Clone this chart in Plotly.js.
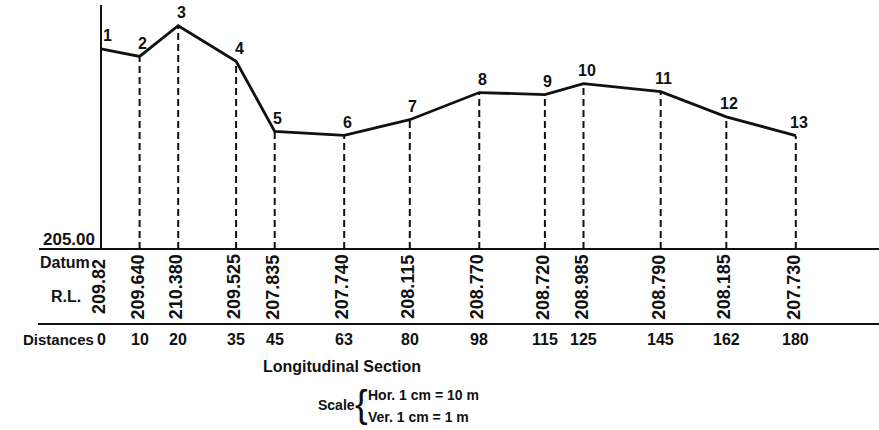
<!DOCTYPE html>
<html>
<head>
<meta charset="utf-8">
<script src="https://cdn.plot.ly/plotly-3.0.1.min.js"></script>
<style>html,body{margin:0;padding:0;background:#fff;}#chart{width:879px;height:430px;}</style>
</head>
<body>
<div id="chart"></div>
<script>
// ---- data ----
const pointLabels = ['1','2','3','4','5','6','7','8','9','10','11','12','13'];
const distances = [0, 10, 20, 35, 45, 63, 80, 98, 115, 125, 145, 162, 180];
const reducedLevels = [209.82, 209.640, 210.380, 209.525, 207.835, 207.740, 208.115, 208.770, 208.720, 208.985, 208.790, 208.185, 207.730];
const rlLabels = ['209.82', '209.640', '210.380', '209.525', '207.835', '207.740', '208.115', '208.770', '208.720', '208.985', '208.790', '208.185', '207.730'];
const distanceLabels = ['0', '10', '20', '35', '45', '63', '80', '98', '115', '125', '145', '162', '180'];
const datumLevel = 205.00;
const datumLabel = '205.00';
const titleText = 'Longitudinal Section';
const scaleLines = ['Hor. 1 cm = 10 m', 'Ver. 1 cm = 1 m'];

// ---- layout helpers ----
const W = 879, H = 430;
const X0 = 101, SX = 3.86;      // pixel of distance 0, px per metre
const Y0 = 249, SY = 41.5;      // pixel of datum, px per metre
const px = v => v / W;           // paper x from pixel
const py = v => 1 - v / H;       // paper y from pixel
const FONT = 'Liberation Sans, Arial, sans-serif';
const INK = '#111';

const shapes = [];
// vertical axis line
shapes.push({type:'line', xref:'x', yref:'y', x0:0, x1:0, y0:datumLevel, y1:datumLevel + 244/SY,
             line:{color:INK, width:2}});
// datum line
shapes.push({type:'line', xref:'paper', yref:'y', x0:px(39), x1:1, y0:datumLevel, y1:datumLevel,
             line:{color:INK, width:2}});
// lower table line
shapes.push({type:'line', xref:'paper', yref:'paper', x0:px(38), x1:1, y0:py(324), y1:py(324),
             line:{color:INK, width:2}});
// dashed ordinates
distances.forEach((d, i) => {
  if (i === 0) return;
  shapes.push({type:'line', xref:'x', yref:'y', x0:d, x1:d, y0:datumLevel, y1:reducedLevels[i],
               line:{color:INK, width:2, dash:'7px,4px'}});
});

const annotations = [];
const txt = (o) => Object.assign({showarrow:false, xanchor:'center', yanchor:'middle'}, o);
// point numbers
pointLabels.forEach((t, i) => {
  annotations.push(txt({x:distances[i], y:reducedLevels[i], xref:'x', yref:'y', text:t,
    xshift: i === 0 ? 6 : 3, yshift:13, font:{family:FONT, size:16, color:INK, weight:'bold'}}));
});
// RL values (rotated)
rlLabels.forEach((t, i) => {
  annotations.push(txt({x:distances[i], y:py(287), xref:'x', yref:'paper', text:t,
    textangle:-90, xshift:-2, font:{family:FONT, size:18, color:INK, weight:'bold'}}));
});
// distance labels
distanceLabels.forEach((t, i) => {
  annotations.push(txt({x:distances[i], y:py(339), xref:'x', yref:'paper', text:t,
    font:{family:FONT, size:16, color:INK, weight:'bold'}}));
});
// row labels
annotations.push(txt({x:px(97), y:py(239), xref:'paper', yref:'paper', xanchor:'right', text:datumLabel,
  font:{family:FONT, size:17, color:INK, weight:'bold'}}));
annotations.push(txt({x:px(38), y:py(262), xref:'paper', yref:'paper', xanchor:'left', text:'Datum',
  font:{family:FONT, size:16, color:INK, weight:'bold'}}));
annotations.push(txt({x:px(49), y:py(296), xref:'paper', yref:'paper', xanchor:'left', text:'R.L.',
  font:{family:FONT, size:16, color:INK, weight:'bold'}}));
annotations.push(txt({x:px(96), y:py(339), xref:'paper', yref:'paper', xanchor:'right', text:'Distances',
  font:{family:FONT, size:15, color:INK, weight:'bold'}}));
// scale note
annotations.push(txt({x:px(357), y:py(405), xref:'paper', yref:'paper', xanchor:'right', text:'Scale',
  font:{family:FONT, size:14, color:INK, weight:'bold'}}));
annotations.push(txt({x:px(361), y:py(404), xref:'paper', yref:'paper', text:'{',
  font:{family:FONT, size:38, color:INK}}));
annotations.push(txt({x:px(366), y:py(395), xref:'paper', yref:'paper', xanchor:'left', text:scaleLines[0],
  font:{family:FONT, size:14, color:INK, weight:'bold'}}));
annotations.push(txt({x:px(366), y:py(417), xref:'paper', yref:'paper', xanchor:'left', text:scaleLines[1],
  font:{family:FONT, size:14, color:INK, weight:'bold'}}));

const trace = {
  x: distances, y: reducedLevels, type:'scatter', mode:'lines',
  line:{color:INK, width:2.8}, hoverinfo:'skip', showlegend:false
};

const layout = {
  width:W, height:H,
  margin:{l:0, r:0, t:0, b:0, pad:0},
  paper_bgcolor:'#fff', plot_bgcolor:'#fff',
  showlegend:false,
  title:{text:titleText, x:px(342), xref:'paper', xanchor:'center', y:py(366), yref:'container', yanchor:'middle',
         font:{family:FONT, size:16, color:INK, weight:'bold'}},
  xaxis:{range:[-X0/SX, (W - X0)/SX], visible:false, fixedrange:true},
  yaxis:{range:[datumLevel - (H - Y0)/SY, datumLevel + Y0/SY], visible:false, fixedrange:true},
  shapes: shapes,
  annotations: annotations
};

Plotly.newPlot('chart', [trace], layout, {staticPlot:true, displayModeBar:false});
</script>
</body>
</html>
